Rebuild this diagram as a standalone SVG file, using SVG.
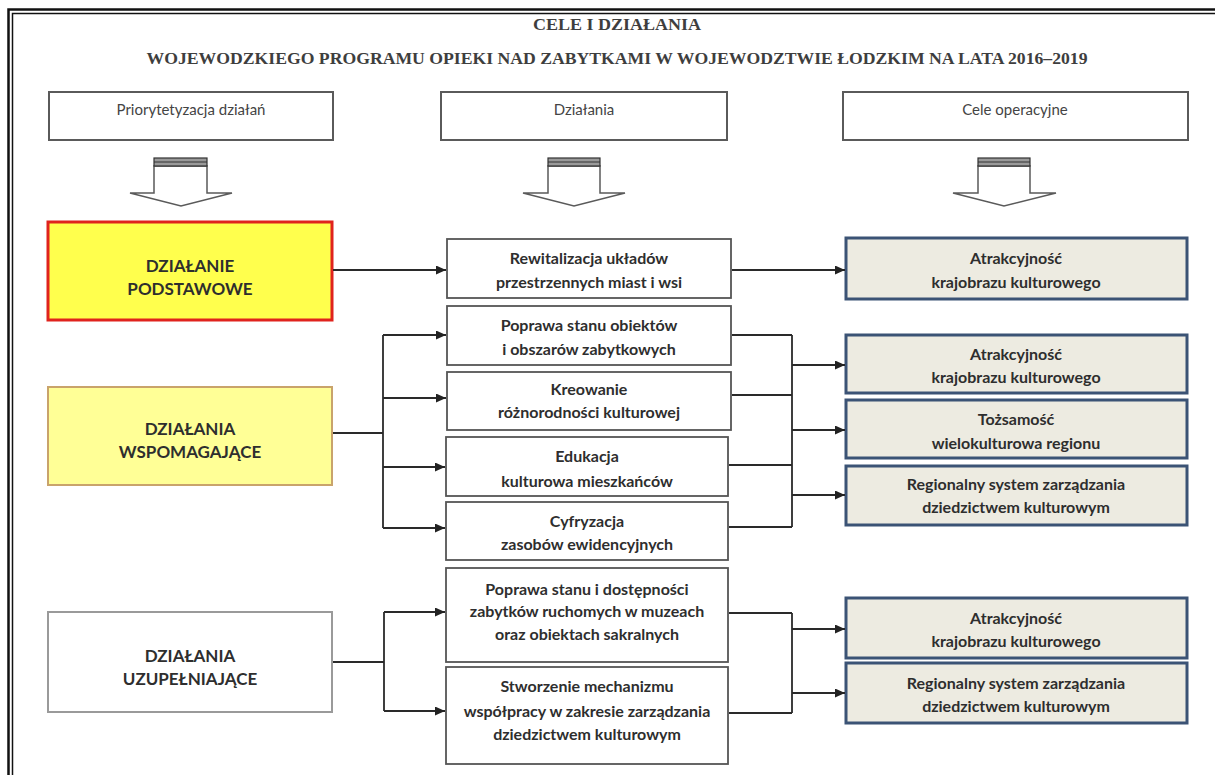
<svg xmlns="http://www.w3.org/2000/svg" width="1215" height="775" viewBox="0 0 1215 775">
<style>
  .title { font-family: "Liberation Serif", "DejaVu Serif", serif; font-weight: bold; fill: #3e3e3e; font-size: 16px; }
  .hdr { fill: #ffffff; stroke: #5a5a5a; stroke-width: 2; }
  .hdrtxt { font-family: Lato, "Liberation Sans", sans-serif; font-size: 15px; fill: #444; text-anchor: middle; }
  .lbl { font-family: Lato, "Liberation Sans", sans-serif; font-size: 16px; font-weight: bold; fill: #2e2e2e; text-anchor: middle; }
  .big { font-size: 17px; }
  .mid { fill: #ffffff; stroke: #555; stroke-width: 1.8; }
  .goal { fill: #edebe1; stroke: #3b5375; stroke-width: 3; }
  .barrow { fill: #ffffff; stroke: #5a5a5a; stroke-width: 1.5; stroke-linejoin: miter; }
  .stripe { fill: #9a9a9a; stroke: #333; stroke-width: 1.2; }
  .conn { fill: none; stroke: #2a2a2a; stroke-width: 1.8; }
</style>
<defs>
  <marker id="ah" markerUnits="userSpaceOnUse" markerWidth="11" markerHeight="9" refX="10" refY="4.5" orient="auto">
    <path d="M0,0 L10,4.5 L0,9 z" fill="#222"/>
  </marker>
</defs>
<rect x="0" y="0" width="1215" height="775" fill="#ffffff"/>
<!-- frame -->
<g id="frame" fill="none" stroke="#111">
  <rect x="8.5" y="9.5" width="1300" height="900" stroke-width="2.5"/>
  <rect x="12.5" y="13.5" width="1300" height="900" stroke-width="1.5"/>
</g>
<!-- title -->
<g id="title">
  <text class="title" x="617" y="30" text-anchor="middle" textLength="168" lengthAdjust="spacingAndGlyphs">CELE I DZIAŁANIA</text>
  <text class="title" x="617" y="64" text-anchor="middle" font-size="17" textLength="941" lengthAdjust="spacingAndGlyphs">WOJEWODZKIEGO PROGRAMU OPIEKI NAD ZABYTKAMI W WOJEWODZTWIE ŁODZKIM NA LATA 2016–2019</text>
</g>
<!-- header boxes -->
<g id="hdr-prior">
  <rect class="hdr" x="49" y="92" width="284" height="48"/>
  <text class="hdrtxt" x="191" y="115">Priorytetyzacja działań</text>
</g>
<g id="hdr-dzialania">
  <rect class="hdr" x="441" y="92" width="286" height="48"/>
  <text class="hdrtxt" x="584" y="115">Działania</text>
</g>
<g id="hdr-cele">
  <rect class="hdr" x="843" y="92" width="345" height="48"/>
  <text class="hdrtxt" x="1015" y="115">Cele operacyjne</text>
</g>
<!-- block arrows -->
<g id="barrow-1">
  <polygon class="barrow" points="154,166 154,193 130,193 181,206 232,193 207,193 207,166"/>
  <rect class="stripe" x="154" y="158" width="53" height="8"/>
  <line x1="154" y1="162" x2="207" y2="162" stroke="#333" stroke-width="1"/>
</g>
<g id="barrow-2">
  <polygon class="barrow" points="548,166 548,193 523,193 574,206 625,193 600,193 600,166"/>
  <rect class="stripe" x="548" y="158" width="52" height="8"/>
  <line x1="548" y1="162" x2="600" y2="162" stroke="#333" stroke-width="1"/>
</g>
<g id="barrow-3">
  <polygon class="barrow" points="978,166 978,193 953,193 1004,206 1056,193 1030,193 1030,166"/>
  <rect class="stripe" x="978" y="158" width="52" height="8"/>
  <line x1="978" y1="162" x2="1030" y2="162" stroke="#333" stroke-width="1"/>
</g>
<!-- left column -->
<g id="podstawowe">
  <rect x="48" y="222" width="284" height="98" fill="#ffff4d" stroke="#e0231d" stroke-width="3"/>
  <text class="lbl big" x="190" y="272">DZIAŁANIE</text>
  <text class="lbl big" x="190" y="295">PODSTAWOWE</text>
</g>
<g id="wspomagajace">
  <rect x="48" y="387" width="284" height="98" fill="#ffff96" stroke="#c9a36b" stroke-width="2"/>
  <text class="lbl big" x="190" y="435">DZIAŁANIA</text>
  <text class="lbl big" x="190" y="458">WSPOMAGAJĄCE</text>
</g>
<g id="uzupelniajace">
  <rect x="48" y="612" width="284" height="100" fill="#ffffff" stroke="#9a9a9a" stroke-width="2"/>
  <text class="lbl big" x="190" y="662">DZIAŁANIA</text>
  <text class="lbl big" x="190" y="685">UZUPEŁNIAJĄCE</text>
</g>
<!-- middle column -->
<g id="rewitalizacja">
  <rect class="mid" x="447" y="239" width="284" height="59"/>
  <text class="lbl" x="589" y="264">Rewitalizacja układów</text>
  <text class="lbl" x="589" y="288">przestrzennych miast i wsi</text>
</g>
<g id="poprawa-obiektow">
  <rect class="mid" x="447" y="306" width="284" height="59"/>
  <text class="lbl" x="589" y="331">Poprawa stanu obiektów</text>
  <text class="lbl" x="589" y="355">i obszarów zabytkowych</text>
</g>
<g id="kreowanie">
  <rect class="mid" x="447" y="372" width="284" height="58"/>
  <text class="lbl" x="589" y="395">Kreowanie</text>
  <text class="lbl" x="589" y="418">różnorodności kulturowej</text>
</g>
<g id="edukacja">
  <rect class="mid" x="446" y="437" width="282" height="59"/>
  <text class="lbl" x="587" y="462">Edukacja</text>
  <text class="lbl" x="587" y="487">kulturowa mieszkańców</text>
</g>
<g id="cyfryzacja">
  <rect class="mid" x="446" y="502" width="282" height="58"/>
  <text class="lbl" x="587" y="527">Cyfryzacja</text>
  <text class="lbl" x="587" y="550">zasobów ewidencyjnych</text>
</g>
<g id="poprawa-ruchomych">
  <rect class="mid" x="446" y="568" width="282" height="94"/>
  <text class="lbl" x="587" y="595">Poprawa stanu i dostępności</text>
  <text class="lbl" x="587" y="617">zabytków ruchomych w muzeach</text>
  <text class="lbl" x="587" y="640">oraz obiektach sakralnych</text>
</g>
<g id="stworzenie">
  <rect class="mid" x="446" y="667" width="282" height="97"/>
  <text class="lbl" x="587" y="692">Stworzenie mechanizmu</text>
  <text class="lbl" x="587" y="717">współpracy w zakresie zarządzania</text>
  <text class="lbl" x="587" y="740">dziedzictwem kulturowym</text>
</g>
<!-- right column -->
<g id="cel-atrakcyjnosc-1">
  <rect class="goal" x="846" y="238" width="341" height="61"/>
  <text class="lbl" x="1016" y="264">Atrakcyjność</text>
  <text class="lbl" x="1016" y="288">krajobrazu kulturowego</text>
</g>
<g id="cel-atrakcyjnosc-2">
  <rect class="goal" x="846" y="335" width="341" height="58"/>
  <text class="lbl" x="1016" y="360">Atrakcyjność</text>
  <text class="lbl" x="1016" y="383">krajobrazu kulturowego</text>
</g>
<g id="cel-tozsamosc">
  <rect class="goal" x="846" y="400" width="341" height="58"/>
  <text class="lbl" x="1016" y="425">Tożsamość</text>
  <text class="lbl" x="1016" y="449">wielokulturowa regionu</text>
</g>
<g id="cel-regionalny-1">
  <rect class="goal" x="846" y="466" width="341" height="59"/>
  <text class="lbl" x="1016" y="490">Regionalny system zarządzania</text>
  <text class="lbl" x="1016" y="513">dziedzictwem kulturowym</text>
</g>
<g id="cel-atrakcyjnosc-3">
  <rect class="goal" x="846" y="598" width="341" height="60"/>
  <text class="lbl" x="1016" y="624">Atrakcyjność</text>
  <text class="lbl" x="1016" y="647">krajobrazu kulturowego</text>
</g>
<g id="cel-regionalny-2">
  <rect class="goal" x="846" y="663" width="341" height="60"/>
  <text class="lbl" x="1016" y="689">Regionalny system zarządzania</text>
  <text class="lbl" x="1016" y="712">dziedzictwem kulturowym</text>
</g>
<!-- connectors -->
<g id="connectors">
  <line class="conn" x1="333" y1="270" x2="446" y2="270" marker-end="url(#ah)"/>
  <line class="conn" x1="732" y1="270" x2="845" y2="270" marker-end="url(#ah)"/>
  <line class="conn" x1="333" y1="433" x2="383" y2="433"/>
  <line class="conn" x1="383" y1="335" x2="383" y2="528"/>
  <line class="conn" x1="383" y1="335" x2="446" y2="335" marker-end="url(#ah)"/>
  <line class="conn" x1="383" y1="398" x2="446" y2="398" marker-end="url(#ah)"/>
  <line class="conn" x1="383" y1="467" x2="445" y2="467" marker-end="url(#ah)"/>
  <line class="conn" x1="383" y1="528" x2="445" y2="528" marker-end="url(#ah)"/>
  <line class="conn" x1="732" y1="335" x2="792" y2="335"/>
  <line class="conn" x1="732" y1="395" x2="792" y2="395"/>
  <line class="conn" x1="729" y1="465" x2="792" y2="465"/>
  <line class="conn" x1="729" y1="527" x2="792" y2="527"/>
  <line class="conn" x1="792" y1="335" x2="792" y2="527"/>
  <line class="conn" x1="792" y1="365" x2="845" y2="365" marker-end="url(#ah)"/>
  <line class="conn" x1="792" y1="430" x2="845" y2="430" marker-end="url(#ah)"/>
  <line class="conn" x1="792" y1="495" x2="845" y2="495" marker-end="url(#ah)"/>
  <line class="conn" x1="333" y1="662" x2="384" y2="662"/>
  <line class="conn" x1="384" y1="612" x2="384" y2="711"/>
  <line class="conn" x1="384" y1="612" x2="445" y2="612" marker-end="url(#ah)"/>
  <line class="conn" x1="384" y1="711" x2="445" y2="711" marker-end="url(#ah)"/>
  <line class="conn" x1="729" y1="613" x2="792" y2="613"/>
  <line class="conn" x1="729" y1="713" x2="792" y2="713"/>
  <line class="conn" x1="792" y1="613" x2="792" y2="713"/>
  <line class="conn" x1="792" y1="629" x2="845" y2="629" marker-end="url(#ah)"/>
  <line class="conn" x1="792" y1="693" x2="845" y2="693" marker-end="url(#ah)"/>
</g>
</svg>
